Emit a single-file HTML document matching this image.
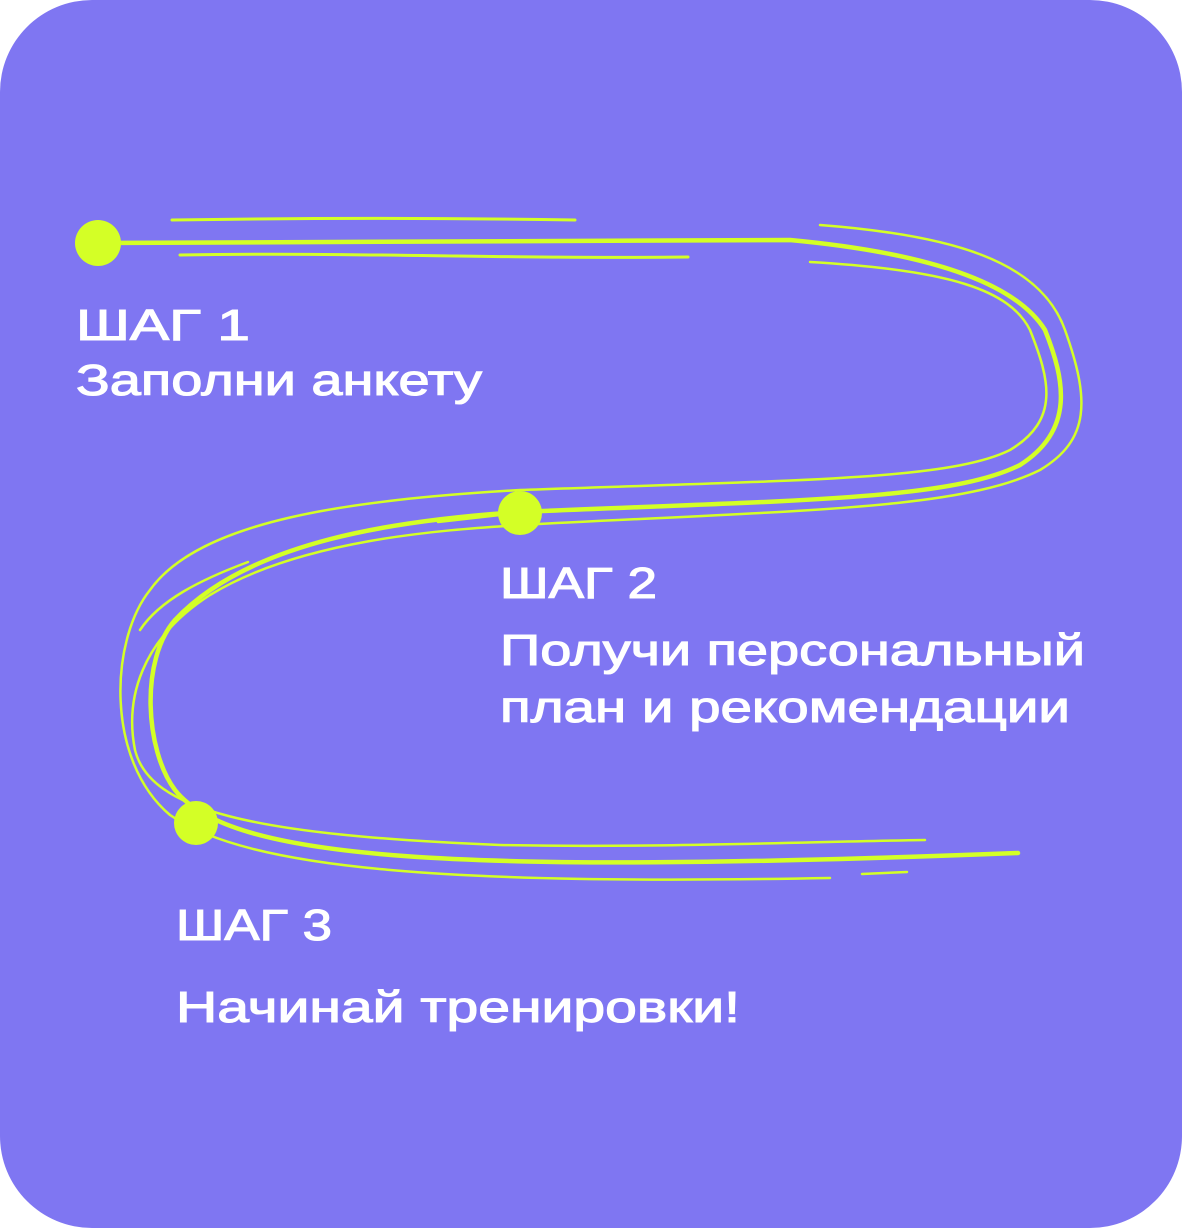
<!DOCTYPE html>
<html><head><meta charset="utf-8"><style>
html,body{margin:0;padding:0;background:#fff}
svg{display:block}
text{font-family:"Liberation Sans","DejaVu Sans",sans-serif;font-size:44px;fill:#fff;stroke:#fff;stroke-width:1.1px}
</style></head><body>
<svg width="1182" height="1228" viewBox="0 0 1182 1228" xmlns="http://www.w3.org/2000/svg">
<rect x="0" y="0" width="1182" height="1228" rx="92" fill="#7F76F2"/>
<g fill="none" stroke="#D4FF26" stroke-linecap="round">
<path d="M172,220 C300,218 450,218 575,220" stroke-width="3"/>
<path d="M180,255 C350,252 500,259 688,257" stroke-width="3"/>
<path d="M810,262 C950,270 1010,290 1030,330 C1050,380 1060,420 1010,450 C950,480 800,480 520,490 C350,500 200,520 150,590 C110,640 105,760 170,815 C250,870 450,885 830,878" stroke-width="2.5"/>
<path d="M98,243 L790,240 C950,255 1020,290 1045,330 C1065,380 1075,430 1020,465 C950,500 800,500 520,512 C400,520 250,540 175,620 C140,660 145,750 175,790 C230,860 450,875 1018,853" stroke-width="4.5"/>
<path d="M820,225 C950,235 1040,260 1065,330 C1090,400 1090,440 1040,470 C960,510 800,510 520,525 C440,530 300,540 210,595 C140,640 125,700 135,750 C150,810 250,835 500,845 C650,848 800,842 925,840" stroke-width="2.5"/>
<path d="M248,562 C200,580 160,600 140,630" stroke-width="2.5"/>
<path d="M438,522 L500,515" stroke-width="2.5"/>
<path d="M862,874 L907,872" stroke-width="2.5"/>
</g>
<g fill="#D4FF26">
<circle cx="98" cy="243" r="23"/>
<circle cx="520" cy="513" r="22"/>
<circle cx="196" cy="823" r="22"/>
</g>
<text x="76" y="340" textLength="174" lengthAdjust="spacingAndGlyphs">ШАГ 1</text>
<text x="76" y="395" textLength="406" lengthAdjust="spacingAndGlyphs">Заполни анкету</text>
<text x="500" y="598" textLength="157" lengthAdjust="spacingAndGlyphs">ШАГ 2</text>
<text x="500" y="665" textLength="585" lengthAdjust="spacingAndGlyphs">Получи персональный</text>
<text x="500" y="722" textLength="570" lengthAdjust="spacingAndGlyphs">план и рекомендации</text>
<text x="176" y="940" textLength="156" lengthAdjust="spacingAndGlyphs">ШАГ 3</text>
<text x="176" y="1022" textLength="564" lengthAdjust="spacingAndGlyphs">Начинай тренировки!</text>
</svg>
</body></html>
